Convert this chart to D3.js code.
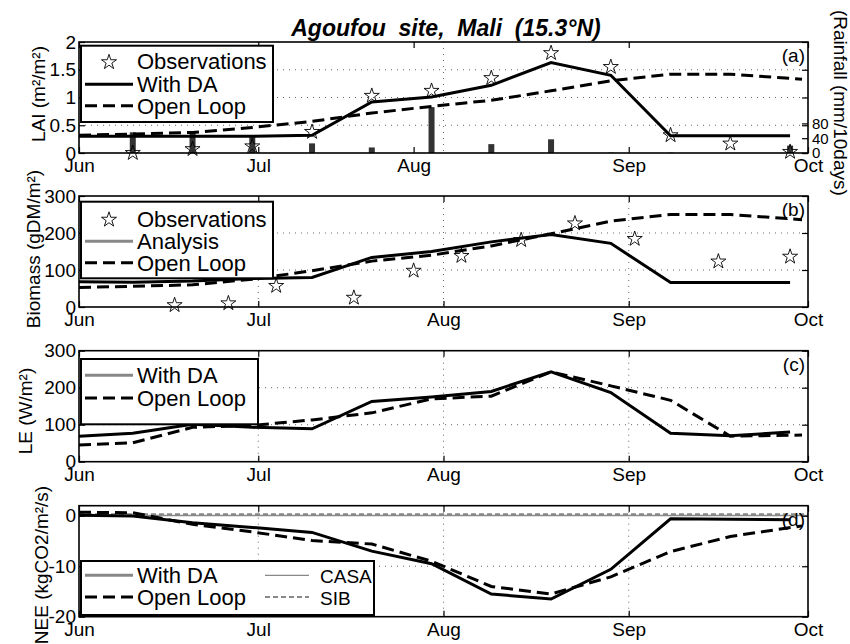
<!DOCTYPE html>
<html>
<meta charset="utf-8">
<style>
body { margin: 0; background: #fff; }
text { font-family: "Liberation Sans", Arial, Helvetica, sans-serif; fill: #000; }
.grid line { stroke: #666; stroke-width: 1; stroke-dasharray: 1,5; }
.axis path { display: none; }
.axis line { stroke: #000; stroke-width: 1.2; }
</style>
<body>
<script src="https://d3js.org/d3.v7.min.js"></script>
<script>
var parse = d3.timeParse("%Y-%m-%d");
function days(list) { return list.map(function(s) { return parse("2006-" + s); }); }

// dates
var modelDates = days(["06-01","06-10","06-20","06-30","07-10","07-20","07-30","08-09","08-19","08-29","09-08","09-18","09-28"]);
var openDates  = days(["06-01","06-10","06-20","06-30","07-10","07-20","07-30","08-09","08-19","08-29","09-08","09-18","09-30"]);
var laiObsDates = days(["06-10","06-20","06-30","07-10","07-20","07-30","08-09","08-19","08-29","09-08","09-18","09-28"]);
var rainDates   = days(["06-10","06-20","06-30","07-10","07-20","07-30","08-09","08-19","08-29","09-08","09-18","09-28"]);
var bioObsDates = days(["06-17","06-26","07-04","07-17","07-27","08-04","08-14","08-23","09-02","09-16","09-28"]);
var refDates    = days(["06-01","07-01","08-01","09-01","10-01"]);
var monthTicks  = days(["06-01","07-01","08-01","09-01","10-01"]);
var rainAxisTicks = days(["06-01","07-01","07-27","09-01","10-01"]);
var monthNames  = ["Jun","Jul","Aug","Sep","Oct"];

// (a) LAI and rainfall
var laiObs  = [0.0, 0.07, 0.12, 0.38, 1.03, 1.12, 1.35, 1.80, 1.55, 0.32, 0.17, 0.02];
var laiDA   = [0.30, 0.30, 0.30, 0.30, 0.32, 0.92, 1.01, 1.22, 1.63, 1.40, 0.31, 0.31, 0.31];
var laiOL   = [0.32, 0.34, 0.37, 0.46, 0.57, 0.72, 0.84, 0.95, 1.12, 1.30, 1.42, 1.42, 1.33];
var rain    = [56, 56, 44, 26, 15, 124, 24, 37, 1, 1, 0, 20];

// (b) biomass
var bioObs  = [5, 10, 57, 25, 98, 138, 181, 226, 184, 123, 136];
var bioDA   = [68, 67, 70, 77, 80, 134, 150, 176, 196, 172, 66, 66, 66];
var bioOL   = [53, 56, 60, 75, 98, 124, 140, 165, 198, 232, 250, 250, 236];

// (c) latent heat
var leDA    = [69, 77, 101, 93, 89, 163, 175, 190, 243, 187, 77, 70, 80];
var leOL    = [45, 51, 93, 98, 113, 132, 170, 177, 243, 205, 166, 69, 72];

// (d) NEE
var neeDA   = [0.1, -0.05, -1.4, -2.3, -3.3, -7.0, -9.5, -15.5, -16.5, -10.6, -0.6, -0.7, -0.8];
var neeOL   = [0.7, 0.6, -1.7, -3.2, -4.9, -5.6, -9.0, -14.0, -15.5, -12.1, -7.1, -4.1, -2.0];
var casa    = [0.05, 0.05, 0.05, 0.05, 0.05];
var sib     = [0.3, 0.3, 0.3, 0.3, 0.3];

var W = 850, H = 644, x0 = 79, x1 = 808, ph = 111;

var svg = d3.select("body").append("svg")
    .attr("width", W)
    .attr("height", H);

var x = d3.scaleTime().domain([monthTicks[0], monthTicks[4]]).range([x0, x1]);

function pts(dates, vals) { return dates.map(function(d, i) { return [d, vals[i]]; }); }

function panel(top, domain, ticks, gridY, gridX, xTicks) {
  var y = d3.scaleLinear().domain(domain).range([top + ph, top]);
  var g = svg.append("g");
  var grid = g.append("g").attr("class", "grid");
  grid.selectAll(".gy").data(gridY).enter().append("line")
      .attr("x1", x0).attr("x2", x1)
      .attr("y1", function(d) { return y(d); }).attr("y2", function(d) { return y(d); });
  grid.selectAll(".gx").data(gridX).enter().append("line")
      .attr("y1", top).attr("y2", top + ph)
      .attr("x1", function(d) { return x(d); }).attr("x2", function(d) { return x(d); });
  var marks = g.append("g");
  var axes = g.append("g");
  axes.append("g").attr("class", "axis")
      .attr("transform", "translate(" + x0 + ",0)")
      .call(d3.axisLeft(y).tickValues(ticks).tickSize(-6).tickPadding(3)
        .tickFormat(function(d) { return String(d); }))
      .attr("font-size", 19).attr("font-family", null);
  axes.append("g").attr("class", "axis")
      .attr("transform", "translate(" + x1 + ",0)")
      .call(d3.axisRight(y).tickValues(ticks).tickSize(-6).tickFormat(""));
  axes.append("g").attr("class", "axis")
      .attr("transform", "translate(0," + (top + ph) + ")")
      .call(d3.axisBottom(x).tickValues(xTicks).tickSize(-6).tickPadding(6)
        .tickFormat(function(d, i) { return monthNames[i]; }))
      .attr("font-size", 19).attr("font-family", null);
  axes.append("g").attr("class", "axis")
      .attr("transform", "translate(0," + top + ")")
      .call(d3.axisTop(x).tickValues(xTicks).tickSize(-6).tickFormat(""));
  axes.append("rect")
      .attr("x", x0).attr("y", top).attr("width", x1 - x0).attr("height", ph)
      .attr("fill", "none").attr("stroke", "#000").attr("stroke-width", 1.6);
  return {g: g, marks: marks, y: y, top: top};
}

function drawLine(p, dates, vals, color, width, dash) {
  var line = d3.line().x(function(d) { return x(d[0]); }).y(function(d) { return p.y(d[1]); });
  p.marks.append("path")
      .datum(pts(dates, vals))
      .attr("d", line)
      .attr("fill", "none")
      .attr("stroke", color)
      .attr("stroke-width", width)
      .attr("stroke-dasharray", dash || null);
}

var star = d3.symbol().type(d3.symbolStar).size(70);

function drawStars(p, dates, vals) {
  p.marks.selectAll(".star").data(pts(dates, vals)).enter().append("path")
      .attr("d", star)
      .attr("transform", function(d) { return "translate(" + x(d[0]) + "," + p.y(d[1]) + ")"; })
      .attr("fill", "none")
      .attr("stroke", "#000")
      .attr("stroke-width", 0.9);
}

function yLabel(text, bx, cy) {
  svg.append("text")
      .attr("transform", "translate(" + bx + "," + cy + ") rotate(-90)")
      .attr("text-anchor", "middle")
      .style("font-size", "19px")
      .text(text);
}

function tag(p, text) {
  svg.append("text")
      .attr("x", 805).attr("y", p.top + 20)
      .attr("text-anchor", "end")
      .style("font-size", "19px")
      .text(text);
}

// legend: rows of {kind, label}, kind: star / solid / gray / dash / thin / dot
function legend(bx, by, bw, bh, rows) {
  var lg = svg.append("g");
  lg.append("rect")
      .attr("x", bx).attr("y", by).attr("width", bw).attr("height", bh)
      .attr("fill", "#fff").attr("stroke", "#000").attr("stroke-width", 2);
  rows.forEach(function(r) {
    var sx = r.sx || bx + 4, ex = r.ex || bx + 52, tx = r.tx || bx + 56;
    var cy = by + r.base - 8;
    if (r.kind == "star") {
      lg.append("path").attr("d", star)
        .attr("transform", "translate(" + ((sx + ex) / 2) + "," + (cy + 1) + ")")
        .attr("fill", "none").attr("stroke", "#000").attr("stroke-width", 0.9);
    } else {
      var st = {solid: ["#000", 3, null], gray: ["#888", 3, null], dash: ["#000", 3, "12,6"],
                thin: ["#888", 1.2, null], dot: ["#888", 2, "5,3"]}[r.kind];
      lg.append("line").attr("x1", sx).attr("x2", ex).attr("y1", cy).attr("y2", cy)
        .attr("stroke", st[0]).attr("stroke-width", st[1]).attr("stroke-dasharray", st[2]);
    }
    lg.append("text").attr("x", tx).attr("y", by + r.base)
      .style("font-size", (r.size || 22) + "px")
      .text(r.label);
  });
}

// title
svg.append("text")
    .attr("x", 446).attr("y", 36)
    .attr("text-anchor", "middle")
    .style("font-size", "23px").style("font-weight", "bold").style("font-style", "italic")
    .style("white-space", "pre")
    .text("Agoufou  site,  Mali  (15.3\u00B0N)");

// (a)
var pa = panel(42, [0, 2], [0, 0.5, 1, 1.5, 2], [0.5, 1, 1.5], [monthTicks[2]], rainAxisTicks);
var rainY = d3.scaleLinear().domain([0, 300]).range([42 + ph, 42]);
pa.marks.selectAll(".bar").data(pts(rainDates, rain)).enter().append("rect")
    .attr("x", function(d) { return x(d[0]) - 3; })
    .attr("width", 6)
    .attr("y", function(d) { return rainY(d[1]); })
    .attr("height", function(d) { return rainY(0) - rainY(d[1]); })
    .attr("fill", "#333");
drawLine(pa, modelDates, laiDA, "#000", 3);
drawLine(pa, openDates, laiOL, "#000", 3, "12,6");
drawStars(pa, laiObsDates, laiObs);
svg.append("g").attr("class", "axis")
    .attr("transform", "translate(" + x1 + ",0)")
    .call(d3.axisRight(rainY).tickValues([0, 40, 80]).tickSize(-6).tickPadding(4))
    .attr("font-size", 15).attr("font-family", null);
svg.append("text")
    .attr("transform", "translate(834,10) rotate(90)")
    .style("font-size", "19px")
    .text("(Rainfall (mm/10days)");
yLabel("LAI (m\u00B2/m\u00B2)", 45, 94);
tag(pa, "(a)");
legend(81, 45.7, 192, 76.3, [
  {kind: "star", label: "Observations", base: 23.5},
  {kind: "solid", label: "With DA", base: 46.5},
  {kind: "dash", label: "Open Loop", base: 68}
]);

// (b)
var pb = panel(196, [0, 300], [0, 100, 200, 300], [100, 200], monthTicks.slice(1, 4), monthTicks);
drawLine(pb, modelDates, bioDA, "#000", 3);
drawLine(pb, openDates, bioOL, "#000", 3, "12,6");
drawStars(pb, bioObsDates, bioObs);
yLabel("Biomass (gDM/m\u00B2)", 40, 249);
tag(pb, "(b)");
legend(81, 201.7, 192, 76.6, [
  {kind: "star", label: "Observations", base: 25},
  {kind: "gray", label: "Analysis", base: 47.5},
  {kind: "dash", label: "Open Loop", base: 69}
]);

// (c)
var pc = panel(350.7, [0, 300], [0, 100, 200, 300], [100, 200], monthTicks.slice(1, 4), monthTicks);
drawLine(pc, modelDates, leDA, "#000", 3);
drawLine(pc, openDates, leOL, "#000", 3, "12,6");
yLabel("LE (W/m\u00B2)", 32, 411);
tag(pc, "(c)");
legend(81, 359, 177, 65.3, [
  {kind: "gray", label: "With DA", base: 24.3},
  {kind: "dash", label: "Open Loop", base: 47}
]);

// (d)
var pd = panel(505.7, [-20, 2], [-20, -10, 0], [-10], monthTicks.slice(1, 4), monthTicks);
drawLine(pd, refDates, casa, "#888", 1.5);
drawLine(pd, refDates, sib, "#888", 2, "5,3");
drawLine(pd, modelDates, neeDA, "#000", 3);
drawLine(pd, openDates, neeOL, "#000", 3, "12,6");
yLabel("NEE (kgCO2/m\u00B2/s)", 48, 565);
tag(pd, "(d)");
legend(81, 561, 293, 54, [
  {kind: "gray", label: "With DA", base: 22.3},
  {kind: "dash", label: "Open Loop", base: 44},
  {kind: "thin", label: "CASA", base: 22.3, sx: 265, ex: 309, tx: 320, size: 19},
  {kind: "dot", label: "SIB", base: 44, sx: 265, ex: 309, tx: 320, size: 19}
]);
</script>
</body>
</html>
